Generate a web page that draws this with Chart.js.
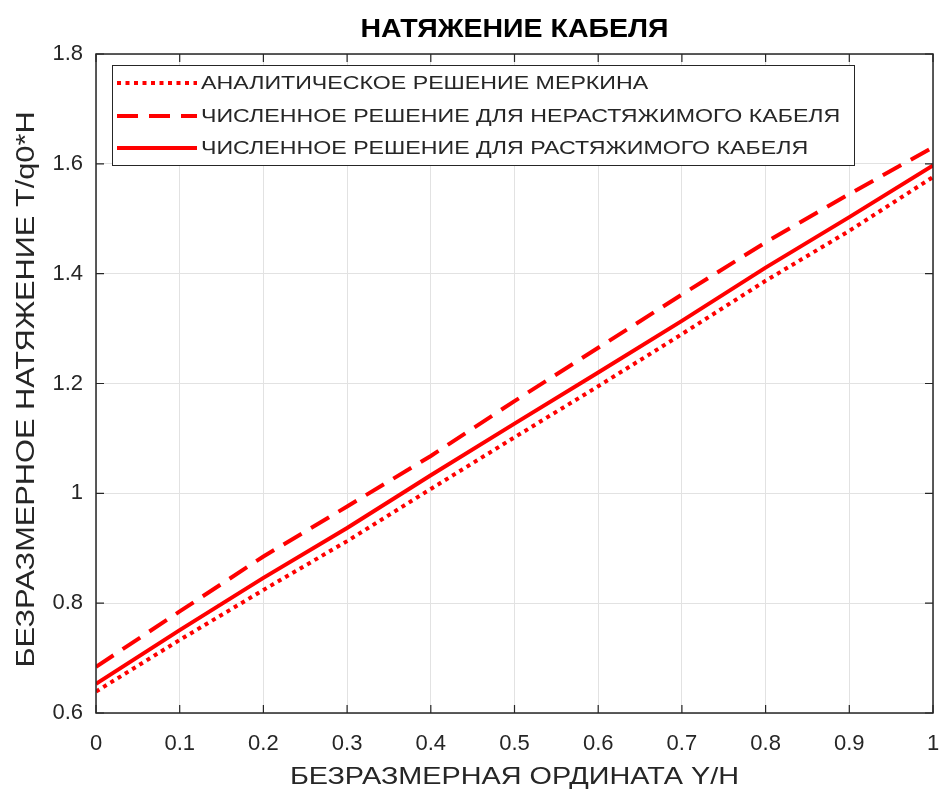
<!DOCTYPE html>
<html>
<head>
<meta charset="utf-8">
<script src="https://cdn.jsdelivr.net/npm/chart.js@4/dist/chart.umd.min.js"></script>
<style>
  html, body { margin: 0; padding: 0; background: #ffffff; }
  #wrap { width: 940px; height: 792px; position: relative; }
</style>
</head>
<body>
<div id="wrap"><canvas id="c" width="940" height="792"></canvas></div>
<script>
// Dimensionless ordinate Y/H
const ordinate = [0, 0.1, 0.2, 0.3, 0.4, 0.5, 0.6, 0.7, 0.8, 0.9, 1.0];

// Dimensionless tension T/q0*H for each solution
const merkinAnalytic = [0.639, 0.733, 0.824, 0.913, 1.008, 1.102, 1.195, 1.290, 1.387, 1.478, 1.576];
const inextensibleNumeric = [0.684, 0.785, 0.885, 0.976, 1.068, 1.168, 1.265, 1.362, 1.457, 1.545, 1.630];
const extensibleNumeric = [0.653, 0.751, 0.846, 0.937, 1.033, 1.127, 1.220, 1.314, 1.411, 1.503, 1.597];

const seriesNames = [
  'АНАЛИТИЧЕСКОЕ РЕШЕНИЕ МЕРКИНА',
  'ЧИСЛЕННОЕ РЕШЕНИЕ ДЛЯ НЕРАСТЯЖИМОГО КАБЕЛЯ',
  'ЧИСЛЕННОЕ РЕШЕНИЕ ДЛЯ РАСТЯЖИМОГО КАБЕЛЯ'
];

const xTicks = [0, 0.1, 0.2, 0.3, 0.4, 0.5, 0.6, 0.7, 0.8, 0.9, 1];
const yTicks = [0.6, 0.8, 1.0, 1.2, 1.4, 1.6, 1.8];

const chartTitle = 'НАТЯЖЕНИЕ КАБЕЛЯ';
const xTitle = 'БЕЗРАЗМЕРНАЯ ОРДИНАТА Y/H';
const yTitle = 'БЕЗРАЗМЕРНОЕ НАТЯЖЕНИЕ T/q0*H';

const FONT = '"Liberation Sans", Arial, Helvetica, sans-serif';
const AXIS_COLOR = '#262626';
const RED = '#ff0000';

function toPoints(ys) {
  return ordinate.map((x, i) => ({ x: x, y: ys[i] }));
}

function fmt(v) {
  return String(Math.round(v * 10) / 10);
}

// Text drawn with a horizontal stretch (the Cyrillic face used here is wide)
function wideText(ctx, text, x, y, sx, align, angle) {
  ctx.save();
  ctx.translate(x, y);
  if (angle) ctx.rotate(angle);
  ctx.scale(sx, 1);
  ctx.textAlign = align;
  ctx.textBaseline = 'middle';
  ctx.fillText(text, 0, 0);
  ctx.restore();
}

// Frame, inward ticks, title, axis titles and boxed legend
const decorations = {
  id: 'decorations',
  afterDatasetsDraw(chart) {
    const { ctx, chartArea: a, scales } = chart;
    const xs = scales.x, ys = scales.y;
    ctx.save();

    // frame
    ctx.strokeStyle = AXIS_COLOR;
    ctx.lineWidth = 1.5;
    ctx.strokeRect(a.left, a.top, a.right - a.left, a.bottom - a.top);

    // inward ticks on all four sides
    const tl = 8;
    ctx.lineWidth = 1.2;
    ctx.beginPath();
    xTicks.forEach(v => {
      const px = xs.getPixelForValue(v);
      ctx.moveTo(px, a.bottom); ctx.lineTo(px, a.bottom - tl);
      ctx.moveTo(px, a.top); ctx.lineTo(px, a.top + tl);
    });
    yTicks.forEach(v => {
      const py = ys.getPixelForValue(v);
      ctx.moveTo(a.left, py); ctx.lineTo(a.left + tl, py);
      ctx.moveTo(a.right, py); ctx.lineTo(a.right - tl, py);
    });
    ctx.stroke();

    const cx = (a.left + a.right) / 2;
    const cy = (a.top + a.bottom) / 2;

    // title
    ctx.fillStyle = '#000000';
    ctx.font = 'bold 25px ' + FONT;
    wideText(ctx, chartTitle, cx, 30, 1.14, 'center');

    // axis titles
    ctx.fillStyle = AXIS_COLOR;
    ctx.font = '24px ' + FONT;
    wideText(ctx, xTitle, cx, 777, 1.2, 'center');
    ctx.font = '25px ' + FONT;
    wideText(ctx, yTitle, 27, cy + 6, 1.23, 'center', -Math.PI / 2);

    // legend
    const box = { left: 112, top: 65, right: 854, bottom: 165 };
    ctx.fillStyle = '#ffffff';
    ctx.fillRect(box.left, box.top, box.right - box.left, box.bottom - box.top);
    ctx.strokeStyle = AXIS_COLOR;
    ctx.lineWidth = 1;
    ctx.strokeRect(box.left + 0.5, box.top + 0.5, box.right - box.left, box.bottom - box.top);

    const rows = [83, 116, 148];
    chart.data.datasets.forEach((ds, i) => {
      const y = rows[i];
      ctx.strokeStyle = ds.borderColor;
      ctx.lineWidth = ds.borderWidth;
      ctx.lineCap = 'butt';
      ctx.setLineDash(ds.borderDash || []);
      ctx.beginPath();
      ctx.moveTo(117, y);
      ctx.lineTo(197, y);
      ctx.stroke();
      ctx.setLineDash([]);
      ctx.fillStyle = AXIS_COLOR;
      ctx.font = '19px ' + FONT;
      wideText(ctx, ds.label, 201, y + 1, 1.22, 'left');
    });

    ctx.restore();
  }
};

new Chart(document.getElementById('c'), {
  type: 'line',
  data: {
    datasets: [
      {
        label: seriesNames[0],
        data: toPoints(merkinAnalytic),
        borderColor: RED,
        borderWidth: 4,
        borderDash: [4, 4.5],
        pointRadius: 0,
        tension: 0,
        fill: false
      },
      {
        label: seriesNames[1],
        data: toPoints(inextensibleNumeric),
        borderColor: RED,
        borderWidth: 4,
        borderDash: [21, 11],
        pointRadius: 0,
        tension: 0,
        fill: false
      },
      {
        label: seriesNames[2],
        data: toPoints(extensibleNumeric),
        borderColor: RED,
        borderWidth: 4,
        pointRadius: 0,
        tension: 0,
        fill: false
      }
    ]
  },
  options: {
    responsive: false,
    animation: false,
    devicePixelRatio: 1,
    layout: { padding: { top: 54, right: 7, left: 0, bottom: 0 } },
    plugins: {
      legend: { display: false },
      title: { display: false },
      tooltip: { enabled: false }
    },
    scales: {
      x: {
        type: 'linear',
        min: 0,
        max: 1,
        afterBuildTicks(scale) { scale.ticks = xTicks.map(v => ({ value: v })); },
        afterFit(scale) {
          scale.height = 79;
          scale.paddingLeft = 0;
          scale.paddingRight = 0;
        },
        grid: { color: '#e2e2e2', lineWidth: 1, drawTicks: false },
        border: { display: false },
        ticks: {
          color: AXIS_COLOR,
          font: { family: FONT, size: 22 },
          padding: 18,
          maxRotation: 0,
          autoSkip: false,
          callback: v => fmt(v)
        }
      },
      y: {
        type: 'linear',
        min: 0.6,
        max: 1.8,
        afterBuildTicks(scale) { scale.ticks = yTicks.map(v => ({ value: v })); },
        afterFit(scale) {
          scale.width = 96;
          scale.paddingTop = 0;
          scale.paddingBottom = 0;
        },
        grid: { color: '#e2e2e2', lineWidth: 1, drawTicks: false },
        border: { display: false },
        ticks: {
          color: AXIS_COLOR,
          font: { family: FONT, size: 22 },
          padding: 13,
          autoSkip: false,
          callback: v => fmt(v)
        }
      }
    }
  },
  plugins: [decorations]
});
</script>
</body>
</html>
